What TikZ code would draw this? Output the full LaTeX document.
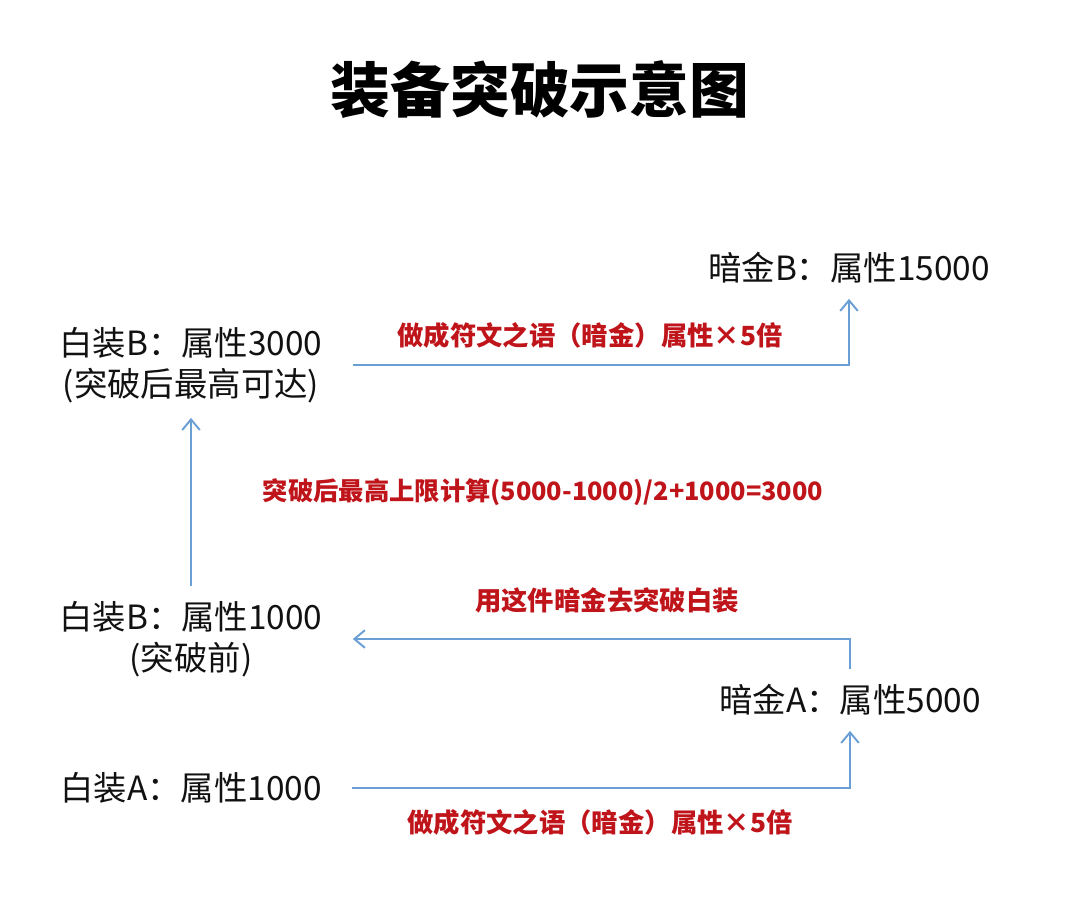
\documentclass[tikz,border=0pt]{standalone}
\usepackage{fontspec}
\setmainfont{Noto Sans CJK SC}
\usepackage{xcolor}
\usetikzlibrary{arrows.meta, positioning}
\definecolor{ink}{HTML}{111111}
\definecolor{link}{HTML}{6A9FD6}
\definecolor{note}{HTML}{C0141B}
\tikzset{
  >={Straight Barb[length=6pt, width=10pt]},
  %
  item/.style={font=\fontsize{19pt}{23pt}\selectfont, text=ink, align=center,
               inner xsep=0.6cm, inner ysep=0.3cm},
  lbl/.style={font=\fontsize{15pt}{18pt}\selectfont\bfseries, text=note, inner sep=2pt},
  ttl/.style={font=\fontsize{34pt}{40pt}\selectfont\bfseries, text=black},
  %
  flow/.style={draw=link, line width=1.1pt, ->},
}
\begin{document}
\begin{tikzpicture}[x=1cm, y=1cm]
  \useasboundingbox[fill=white] (0,0) rectangle (21.6,-18.36);

  \node[ttl] (title) at (10.8,-1.8) {装备突破示意图};

  \node[item] (dj15) at (16.98,-5.36) {暗金B：属性15000};
  \node[item] (wb3) at (3.82,-7.3) {白装B：属性3000\\(突破后最高可达)};
  \node[item] (wb1) at (3.82,-12.78) {白装B：属性1000\\(突破前)};
  \node[item] (dj5) at (17.0,-14.0) {暗金A：属性5000};
  \node[item] (wba) at (3.82,-15.76) {白装A：属性1000};

  \draw[flow] (wba.east) -| (dj5.south);
  \draw[flow] (dj5.north) |- (wb1.east);
  \draw[flow] (wb1.north) -- (wb3.south);
  \draw[flow] (wb3.east) -| (dj15.south);

  % red notes
  \node[lbl] (n1) at (12.0,-16.44) {做成符文之语（暗金）属性×5倍};
  \node[lbl] (n2) at (12.14,-12.0) {用这件暗金去突破白装};
  \node[lbl, font=\fontsize{14.4pt}{18pt}\selectfont\bfseries] (n3) at (10.86,-9.84)
    {突破后最高上限计算(5000-1000)/2+1000=3000};
  \node[lbl] (n4) at (11.8,-6.7) {做成符文之语（暗金）属性×5倍};

\end{tikzpicture}
\end{document}
